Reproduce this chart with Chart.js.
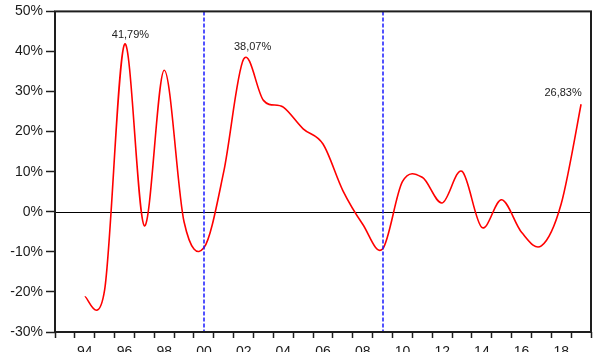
<!DOCTYPE html>
<html>
<head>
<meta charset="utf-8">
<script src="https://cdn.jsdelivr.net/npm/chart.js@4.4.1/dist/chart.umd.min.js"></script>
<style>
  html, body { margin: 0; padding: 0; background: #fff; }
</style>
</head>
<body>
<canvas id="growthChart" width="593" height="352"></canvas>
<script>
/* globals Chart:false */
(function () {
  'use strict'

  // annual values, plotted at the middle of each year
  var years = [1994, 1995, 1996, 1997, 1998, 1999, 2000, 2001, 2002, 2003, 2004, 2005, 2006,
    2007, 2008, 2009, 2010, 2011, 2012, 2013, 2014, 2015, 2016, 2017, 2018, 2019]
  var growth = [-21.2, -19.5, 41.79, -3.5, 35.3, -2.5, -9.0, 10.0, 38.07, 27.8, 26.1, 20.7, 16.9,
    5.3, -3.1, -9.3, 7.5, 8.6, 2.2, 10.1, -3.9, 3.0, -5.1, -8.5, 2.0, 26.83]
  var breakYears = [2000, 2009]
  var markedYears = [1996, 2002, 2019]
  var yTicks = [-30, -20, -10, 0, 10, 20, 30, 40, 50]

  // where each value label sits relative to its point (px)
  var labelShift = { 1996: [6, -9], 2002: [9, -12], 2019: [-18, -11] }

  var points = years.map(function (yr, i) { return { x: yr + 0.5, y: growth[i] } })

  function pct(v) { return v.toFixed(2).replace('.', ',') + '%' }

  // uniform Catmull-Rom smoothing (like a spreadsheet "smoothed line")
  function smooth(chart) {
    var meta = chart.getDatasetMeta(0)
    meta.dataset.updateControlPoints(chart.chartArea, 'x')
    var pts = meta.data
    for (var i = 0; i < pts.length; i++) {
      var prev = pts[Math.max(i - 1, 0)]
      var next = pts[Math.min(i + 1, pts.length - 1)]
      var dx = (next.x - prev.x) / 6
      var dy = (next.y - prev.y) / 6
      pts[i].cp1x = pts[i].x - dx
      pts[i].cp1y = pts[i].y - dy
      pts[i].cp2x = pts[i].x + dx
      pts[i].cp2y = pts[i].y + dy
    }
  }

  var extras = {
    id: 'extras',
    beforeDatasetsDraw: function (chart) {
      smooth(chart)
      var ctx = chart.ctx, a = chart.chartArea
      var zy = Math.round(chart.scales.y.getPixelForValue(0)) + 0.5
      ctx.save()
      ctx.strokeStyle = '#000'
      ctx.lineWidth = 1
      ctx.beginPath(); ctx.moveTo(a.left, zy); ctx.lineTo(a.right, zy); ctx.stroke()
      ctx.restore()
    },
    afterDatasetsDraw: function (chart) {
      var ctx = chart.ctx, a = chart.chartArea, xs = chart.scales.x
      ctx.save()
      ctx.lineWidth = 1.5
      ctx.strokeStyle = '#1a1aff'
      ctx.setLineDash([4, 2])
      breakYears.forEach(function (yr) {
        var px = Math.round(xs.getPixelForValue(yr + 0.5))
        ctx.beginPath(); ctx.moveTo(px, a.top); ctx.lineTo(px, a.bottom); ctx.stroke()
      })
      ctx.restore()
    },
    afterDraw: function (chart) {
      var ctx = chart.ctx, a = chart.chartArea
      var xs = chart.scales.x, ys = chart.scales.y
      ctx.save()
      ctx.strokeStyle = '#1e1e1e'
      ctx.lineWidth = 2
      ctx.strokeRect(a.left, a.top, a.right - a.left, a.bottom - a.top)
      ctx.fillStyle = '#222'
      ctx.font = '11px "Liberation Sans", Arial, sans-serif'
      ctx.textAlign = 'center'
      ctx.textBaseline = 'middle'
      markedYears.forEach(function (yr) {
        var v = growth[years.indexOf(yr)]
        var s = labelShift[yr]
        ctx.fillText(pct(v), xs.getPixelForValue(yr + 0.5) + s[0], ys.getPixelForValue(v) + s[1])
      })
      ctx.restore()
    }
  }

  Chart.defaults.font.family = '"Liberation Sans", Arial, sans-serif'
  Chart.defaults.color = '#1a1a1a'

  // eslint-disable-next-line no-unused-vars
  var chart = new Chart(document.getElementById('growthChart'), {
    type: 'line',
    data: {
      datasets: [{
        data: points,
        borderColor: '#ff0000',
        borderWidth: 1.6,
        pointRadius: 0,
        tension: 0.4,
        fill: false
      }]
    },
    options: {
      responsive: false,
      animation: false,
      devicePixelRatio: 1,
      layout: { autoPadding: false, padding: { left: 0, right: 2, top: 11, bottom: 0 } },
      plugins: { legend: { display: false }, tooltip: { enabled: false } },
      scales: {
        x: {
          type: 'linear',
          min: 1993,
          max: 2020,
          afterFit: function (s) {
            s.height = 20
            s.paddingLeft = 0
            s.paddingRight = 0
          },
          border: { display: false },
          grid: { drawOnChartArea: false, drawTicks: true, tickLength: 6, tickColor: '#1e1e1e', tickWidth: 1.5 },
          ticks: {
            stepSize: 1,
            autoSkip: false,
            maxRotation: 0,
            padding: 6,
            labelOffset: 10,
            font: { size: 14 },
            callback: function (v) {
              if (v % 2 !== 0 || v >= 2020) return ''
              return String(v).slice(2)
            }
          }
        },
        y: {
          min: -30,
          max: 50,
          afterFit: function (s) { s.width = 55 },
          afterBuildTicks: function (s) { s.ticks = yTicks.map(function (v) { return { value: v } }) },
          border: { display: false },
          grid: { drawOnChartArea: false, drawTicks: true, tickLength: 9, tickColor: '#1e1e1e', tickWidth: 1.5 },
          ticks: {
            padding: 3,
            font: { size: 14 },
            callback: function (v) { return v + '%' }
          }
        }
      }
    },
    plugins: [extras]
  })
}())
</script>
</body>
</html>
